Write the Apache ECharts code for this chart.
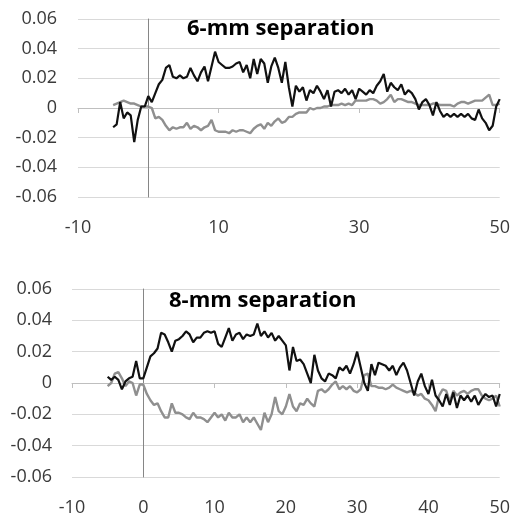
<!DOCTYPE html>
<html>
<head>
<meta charset="utf-8">
<script src="https://cdn.jsdelivr.net/npm/echarts@6/dist/echarts.min.js"></script>
<style>
  html, body { margin: 0; padding: 0; background: #fff; }
  #chart { width: 513px; height: 517px; }
</style>
</head>
<body>
<div id="chart"></div>
<script>
// sample positions (same for both panels)
var xs = [
  -5, -4.5, -4, -3.5, -3, -2.5, -2, -1.5, -1, -0.5,
  0, 0.5, 1, 1.5, 2, 2.5, 3, 3.5, 4, 4.5,
  5, 5.5, 6, 6.5, 7, 7.5, 8, 8.5, 9, 9.5,
  10, 10.5, 11, 11.5, 12, 12.5, 13, 13.5, 14, 14.5,
  15, 15.5, 16, 16.5, 17, 17.5, 18, 18.5, 19, 19.5,
  20, 20.5, 21, 21.5, 22, 22.5, 23, 23.5, 24, 24.5,
  25, 25.5, 26, 26.5, 27, 27.5, 28, 28.5, 29, 29.5,
  30, 30.5, 31, 31.5, 32, 32.5, 33, 33.5, 34, 34.5,
  35, 35.5, 36, 36.5, 37, 37.5, 38, 38.5, 39, 39.5,
  40, 40.5, 41, 41.5, 42, 42.5, 43, 43.5, 44, 44.5,
  45, 45.5, 46, 46.5, 47, 47.5, 48, 48.5, 49, 49.5,
  50
];

// 6-mm separation
var sep6Black = [
  -0.013, -0.011, 0.004, -0.007, -0.003, -0.005, -0.023, -0.008, 0.001, 0.001,
  0.008, 0.004, 0.010, 0.016, 0.019, 0.027, 0.029, 0.021, 0.020, 0.022,
  0.020, 0.021, 0.027, 0.022, 0.018, 0.024, 0.028, 0.018, 0.028, 0.038,
  0.031, 0.029, 0.027, 0.027, 0.028, 0.030, 0.031, 0.024, 0.029, 0.020,
  0.033, 0.023, 0.033, 0.030, 0.017, 0.028, 0.034, 0.027, 0.017, 0.031,
  0.014, 0.001, 0.015, 0.011, 0.014, 0.005, 0.012, 0.010, 0.015, 0.011,
  0.006, 0.012, 0.001, 0.011, 0.012, 0.010, 0.013, 0.009, 0.012, 0.006,
  0.013, 0.011, 0.009, 0.012, 0.010, 0.015, 0.018, 0.023, 0.011, 0.017,
  0.014, 0.012, 0.016, 0.009, 0.012, 0.010, 0.006, -0.001, 0.004, 0.006,
  0.002, -0.005, 0.004, -0.002, -0.006, -0.004, -0.006, -0.004, -0.006, -0.004,
  -0.006, -0.004, -0.007, -0.008, -0.001, -0.007, -0.010, -0.015, -0.012, 0.001,
  0.006
];
var sep6Gray = [
  0.002, 0.003, 0.004, 0.005, 0.004, 0.003, 0.003, 0.002, 0.001, 0.001,
  0.001, 0.000, -0.007, -0.006, -0.008, -0.012, -0.015, -0.013, -0.014, -0.013,
  -0.013, -0.010, -0.014, -0.012, -0.013, -0.015, -0.013, -0.012, -0.008, -0.015,
  -0.016, -0.016, -0.016, -0.017, -0.015, -0.016, -0.015, -0.015, -0.016, -0.017,
  -0.014, -0.012, -0.011, -0.014, -0.010, -0.012, -0.009, -0.007, -0.010, -0.009,
  -0.006, -0.006, -0.004, -0.003, -0.003, -0.003, 0.000, -0.001, 0.000, 0.000,
  0.001, 0.001, 0.002, 0.002, 0.002, 0.003, 0.002, 0.003, 0.002, 0.005,
  0.005, 0.005, 0.005, 0.006, 0.006, 0.005, 0.003, 0.004, 0.006, 0.009,
  0.004, 0.006, 0.006, 0.005, 0.004, 0.004, 0.003, 0.002, 0.002, 0.002,
  0.002, 0.003, 0.003, 0.002, 0.002, 0.002, 0.002, 0.001, 0.003, 0.004,
  0.004, 0.003, 0.004, 0.005, 0.005, 0.005, 0.007, 0.009, 0.002, 0.002,
  0.003
];

// 8-mm separation
var sep8Black = [
  0.004, 0.002, 0.004, 0.002, -0.004, 0.001, 0.003, 0.004, 0.014, 0.003,
  0.003, 0.010, 0.017, 0.019, 0.022, 0.032, 0.031, 0.026, 0.020, 0.027,
  0.028, 0.030, 0.033, 0.031, 0.026, 0.029, 0.029, 0.032, 0.033, 0.032,
  0.033, 0.025, 0.023, 0.029, 0.035, 0.027, 0.031, 0.032, 0.028, 0.031,
  0.030, 0.031, 0.038, 0.030, 0.033, 0.029, 0.032, 0.027, 0.030, 0.027,
  0.024, 0.008, 0.023, 0.014, 0.015, 0.012, 0.006, 0.000, 0.018, 0.008,
  0.003, 0.001, 0.006, 0.005, 0.003, 0.010, 0.008, 0.011, 0.006, 0.012,
  0.020, 0.010, 0.000, -0.005, 0.012, 0.005, 0.013, 0.012, 0.011, 0.008,
  0.011, 0.005, 0.010, 0.013, 0.008, 0.000, -0.008, 0.001, 0.006, -0.002,
  -0.007, 0.002, -0.008, -0.011, -0.015, -0.007, -0.014, -0.006, -0.016, -0.008,
  -0.011, -0.008, -0.012, -0.008, -0.014, -0.010, -0.007, -0.009, -0.008, -0.015,
  -0.007
];
var sep8Gray = [
  -0.002, 0.000, 0.006, 0.007, 0.003, -0.002, 0.001, 0.000, -0.008, -0.001,
  -0.001, -0.007, -0.011, -0.014, -0.013, -0.018, -0.022, -0.022, -0.013, -0.019,
  -0.019, -0.020, -0.022, -0.023, -0.019, -0.022, -0.022, -0.023, -0.025, -0.022,
  -0.019, -0.022, -0.020, -0.024, -0.019, -0.022, -0.022, -0.020, -0.025, -0.022,
  -0.025, -0.022, -0.026, -0.030, -0.019, -0.025, -0.020, -0.009, -0.018, -0.020,
  -0.015, -0.007, -0.015, -0.018, -0.013, -0.014, -0.010, -0.013, -0.015, -0.005,
  -0.004, -0.006, -0.004, -0.001, 0.001, -0.004, -0.002, -0.004, -0.002, -0.005,
  -0.006, -0.004, 0.005, 0.006, -0.002, -0.002, -0.003, -0.003, -0.004, -0.003,
  -0.001, -0.003, -0.004, -0.005, -0.006, -0.005, -0.006, -0.008, -0.007, -0.010,
  -0.011, -0.014, -0.018, -0.008, -0.004, -0.005, -0.012, -0.005, -0.008, -0.006,
  -0.005, -0.007, -0.005, -0.004, -0.004, -0.008, -0.010, -0.011, -0.010, -0.008,
  -0.015
];

var FONT = "'Open Sans', sans-serif";
var LABEL_COLOR = "#3a3a3a";

function pairs(vals) {
  return xs.map(function (x, i) { return [x, vals[i]]; });
}

// x axis that only carries the labels at the bottom of the grid
function labelXAxis(grid, step) {
  return {
    gridIndex: grid, type: "value", min: -10, max: 50, interval: step,
    position: "bottom",
    axisLine: { show: false, onZero: false },
    axisTick: { show: false },
    splitLine: { show: false },
    axisLabel: { margin: 22, fontSize: 18, fontFamily: FONT, color: LABEL_COLOR }
  };
}
// x axis line sitting on y = 0 with small ticks
function zeroXAxis(grid, step) {
  return {
    gridIndex: grid, type: "value", min: -10, max: 50, interval: step,
    position: "bottom",
    axisLine: { show: true, onZero: true, lineStyle: { color: "#bfbfbf", width: 1 } },
    axisTick: { show: true, length: 5, lineStyle: { color: "#bfbfbf" } },
    axisLabel: { show: false },
    splitLine: { show: false }
  };
}
function valueYAxis(grid, margin) {
  return {
    gridIndex: grid, type: "value", min: -0.06, max: 0.06, interval: 0.02,
    axisLine: { show: false, onZero: false },
    axisTick: { show: false },
    splitLine: { lineStyle: { color: "#d9d9d9", width: 1 } },
    axisLabel: { margin: margin, fontSize: 18, fontFamily: FONT, color: LABEL_COLOR }
  };
}
// vertical axis line crossing at x = 0
function zeroYAxis(grid) {
  return {
    gridIndex: grid, type: "value", min: -0.06, max: 0.06, interval: 0.02,
    position: "left",
    axisLine: { show: true, onZero: true, onZeroAxisIndex: grid * 2 + 1, lineStyle: { color: "#868686", width: 1 } },
    axisTick: { show: false },
    axisLabel: { show: false },
    splitLine: { show: false }
  };
}
function lineSeries(name, vals, xi, yi, color, width, z) {
  return {
    name: name, type: "line", xAxisIndex: xi, yAxisIndex: yi,
    data: pairs(vals), showSymbol: false, symbol: "none",
    lineStyle: { color: color, width: width }, z: z, animation: false
  };
}

var chart = echarts.init(document.getElementById("chart"));
chart.setOption({
  backgroundColor: "#fff",
  animation: false,
  title: [
    { text: "6-mm separation", left: 187, top: 18, padding: 0,
      textStyle: { fontFamily: FONT, fontSize: 22, fontWeight: "bold", color: "#000" } },
    { text: "8-mm separation", left: 169, top: 290, padding: 0,
      textStyle: { fontFamily: FONT, fontSize: 22, fontWeight: "bold", color: "#000" } }
  ],
  grid: [
    { left: 78, right: 11, top: 19, height: 178 },
    { left: 72, right: 6, top: 289, height: 190 }
  ],
  xAxis: [
    labelXAxis(0, 20), zeroXAxis(0, 20),
    labelXAxis(1, 10), zeroXAxis(1, 10)
  ],
  yAxis: [
    valueYAxis(0, 21), zeroYAxis(0),
    valueYAxis(1, 20), zeroYAxis(1)
  ],
  series: [
    lineSeries("6-mm gray", sep6Gray, 0, 0, "#8f8f8f", 2.4, 3),
    lineSeries("6-mm black", sep6Black, 0, 0, "#111", 2.2, 4),
    lineSeries("8-mm gray", sep8Gray, 2, 2, "#8f8f8f", 2.4, 3),
    lineSeries("8-mm black", sep8Black, 2, 2, "#111", 2.2, 4)
  ]
});
</script>
</body>
</html>
